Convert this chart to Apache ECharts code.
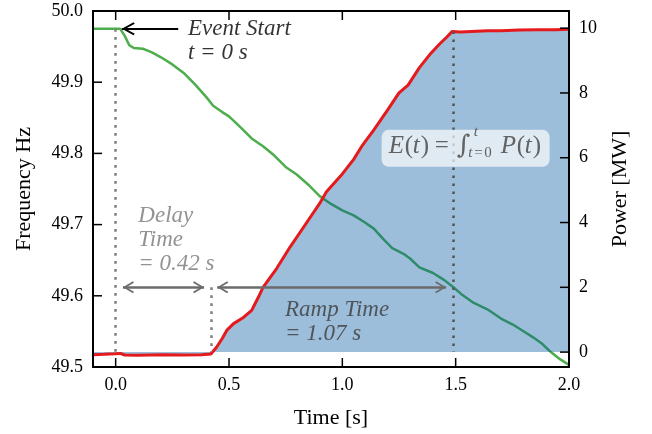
<!DOCTYPE html>
<html>
<head>
<meta charset="utf-8">
<script src="https://cdn.jsdelivr.net/npm/echarts@6/dist/echarts.min.js"></script>
<style>
  html, body { margin: 0; padding: 0; background: #fff; }
  #chart { width: 652px; height: 434px; }
</style>
</head>
<body>
<div id="chart"></div>
<script>
// Grid frequency after a trip event, and the power ramp of the responding unit
const freqTime = [-0.1, 0.0, 0.02, 0.04, 0.06, 0.08, 0.12, 0.16, 0.20, 0.25, 0.30, 0.35, 0.40, 0.43, 0.47,
  0.50, 0.55, 0.60, 0.65, 0.70, 0.75, 0.80, 0.85, 0.90, 0.95, 1.00, 1.05, 1.10, 1.14, 1.18, 1.22, 1.27,
  1.30, 1.34, 1.40, 1.45, 1.49, 1.53, 1.58, 1.64, 1.70, 1.75, 1.78, 1.84, 1.88, 1.92, 1.96, 2.00];
const freqHz = [49.975, 49.975, 49.975, 49.965, 49.952, 49.948, 49.947, 49.942, 49.935, 49.925, 49.913,
  49.897, 49.879, 49.867, 49.858, 49.852, 49.837, 49.821, 49.810, 49.797, 49.781, 49.770, 49.756, 49.740,
  49.729, 49.720, 49.713, 49.703, 49.694, 49.680, 49.667, 49.659, 49.652, 49.640, 49.632, 49.622, 49.612,
  49.601, 49.590, 49.581, 49.568, 49.560, 49.554, 49.542, 49.533, 49.521, 49.511, 49.503];

const powerTime = [-0.1, -0.05, 0.0, 0.02, 0.04, 0.10, 0.20, 0.30, 0.38, 0.42, 0.445, 0.47, 0.49, 0.52,
  0.56, 0.60, 0.63, 0.65, 0.71, 0.77, 0.84, 0.90, 0.93, 1.00, 1.05, 1.09, 1.14, 1.20, 1.25, 1.29, 1.34,
  1.39, 1.43, 1.46, 1.485, 1.52, 1.57, 1.64, 1.70, 1.78, 1.86, 1.94, 2.00];
const powerMW = [-0.08, -0.07, -0.05, -0.04, -0.09, -0.10, -0.08, -0.09, -0.08, -0.06, 0.15, 0.42, 0.67,
  0.88, 1.05, 1.29, 1.70, 2.00, 2.58, 3.25, 3.97, 4.59, 4.95, 5.50, 5.95, 6.40, 6.87, 7.48, 8.00, 8.24,
  8.78, 9.22, 9.52, 9.72, 9.90, 9.88, 9.90, 9.92, 9.92, 9.94, 9.95, 9.95, 9.97];

const timeTicks = [0, 0.5, 1.0, 1.5, 2.0];
const freqTicks = [49.5, 49.6, 49.7, 49.8, 49.9, 50.0];
const powerTicks = [0, 2, 4, 6, 8, 10];

const timeRange = [-0.1, 2.0];
const freqRange = [49.5, 50.0];
const powerRange = [-0.46, 10.53];

// Event markers (seconds) and the annotated durations
const eventTime = 0;
const rampStartTime = 0.42;
const rampEndTime = 1.49;
const delayText = 'Delay\nTime\n= 0.42 s';
const rampText = 'Ramp Time\n= 1.07 s';
const eventText = 'Event Start\nt = 0 s';

const SERIF = "'Liberation Serif', 'Times New Roman', 'DejaVu Serif', serif";

const pairs = (xs, ys) => xs.map((x, i) => [x, ys[i]]);
const freqData = pairs(freqTime, freqHz);
const powerData = pairs(powerTime, powerMW);

// Inward tick marks: [x, y, direction] with 0 = up, 1 = down, 2 = right, 3 = left
const freqTickRows = [].concat(
  timeTicks.map(t => [t, freqRange[0], 0]),
  timeTicks.map(t => [t, freqRange[1], 1]),
  freqTicks.map(f => [timeRange[0], f, 2])
);
const powerTickRows = powerTicks.map(p => [timeRange[1], p, 3]);
const TICK_DIRS = [[0, -1], [0, 1], [1, 0], [-1, 0]];
const renderTick = (params, api) => {
  const p = api.coord([api.value(0), api.value(1)]);
  const d = TICK_DIRS[api.value(2)];
  return {
    type: 'line',
    shape: { x1: p[0], y1: p[1], x2: p[0] + d[0] * 9, y2: p[1] + d[1] * 9 },
    style: { stroke: '#000', lineWidth: 1.5 }
  };
};

// Open chevron arrow head; the degenerate sub-path puts the tip at the symbol centre
const CHEVRON = 'path://M50,0 L100,80 L88,88 L50,26 L12,88 L0,80 Z M50,-88 L50.01,-88 L50,-87.99 Z';

const axisLineStyle = () => ({ show: true, onZero: false, lineStyle: { color: '#000', width: 2 } });
const labelStyle = (extra) => Object.assign({ color: '#000', fontFamily: SERIF, fontSize: 18 }, extra);
const nameStyle = () => ({ color: '#000', fontFamily: SERIF, fontSize: 22 });

const chart = echarts.init(document.getElementById('chart'), null, { renderer: 'canvas' });

const option = {
  animation: false,
  backgroundColor: '#fff',
  grid: { left: 93, right: 83, top: 11, bottom: 67, containLabel: false, outerBoundsMode: 'none' },
  xAxis: [
    {
      type: 'value', position: 'bottom', min: timeRange[0], max: timeRange[1], z: 10,
      axisLine: axisLineStyle(),
      axisTick: { show: false },
      axisLabel: labelStyle({ customValues: timeTicks, margin: 9, formatter: v => v.toFixed(1) }),
      splitLine: { show: false },
      name: 'Time [s]', nameLocation: 'middle', nameGap: 40, nameTextStyle: nameStyle()
    },
    {
      type: 'value', position: 'top', min: timeRange[0], max: timeRange[1], z: 10,
      axisLine: axisLineStyle(),
      axisTick: { show: false },
      axisLabel: { show: false },
      splitLine: { show: false }
    }
  ],
  yAxis: [
    {
      type: 'value', position: 'left', min: freqRange[0], max: freqRange[1], interval: 0.1, z: 10,
      axisLine: axisLineStyle(),
      axisTick: { show: false },
      axisLabel: labelStyle({ margin: 10, formatter: v => v.toFixed(1) }),
      splitLine: { show: false },
      name: 'Frequency Hz', nameLocation: 'middle', nameRotate: 90, nameGap: 58, nameTextStyle: nameStyle()
    },
    {
      type: 'value', position: 'right', min: powerRange[0], max: powerRange[1], z: 10,
      axisLine: axisLineStyle(),
      axisTick: { show: false },
      axisLabel: labelStyle({ customValues: powerTicks, margin: 10 }),
      splitLine: { show: false },
      name: 'Power [MW]', nameLocation: 'middle', nameRotate: 90, nameGap: 40, nameTextStyle: nameStyle()
    }
  ],
  series: [
    {
      // dotted guides for the event, ramp start and ramp end
      name: 'guides', type: 'line', xAxisIndex: 0, yAxisIndex: 1, data: [], z: 1, silent: true,
      markLine: {
        silent: true, symbol: ['none', 'none'], label: { show: false },
        lineStyle: { type: [2.7, 5.3], width: 2.5, color: '#808080' },
        data: [
          [{ coord: [eventTime, 9.975] }, { coord: [eventTime, 0] }],
          [{ coord: [rampStartTime, 2] }, { coord: [rampStartTime, 0] }],
          [{ coord: [rampEndTime, 9.9], lineStyle: { color: '#555' } }, { coord: [rampEndTime, 0] }]
        ]
      }
    },
    {
      name: 'Frequency', type: 'line', xAxisIndex: 0, yAxisIndex: 0, data: freqData, z: 2,
      showSymbol: false, smooth: false,
      lineStyle: { color: '#4cae4c', width: 2.5 },
      markLine: {
        silent: true, label: { show: false },
        symbol: [CHEVRON, 'none'], symbolSize: [13, 26],
        lineStyle: { type: 'solid', color: '#000', width: 2 },
        data: [[{ coord: [0.027, 49.975] }, { coord: [0.276, 49.975] }]]
      }
    },
    {
      // energy delivered: area under the power curve
      name: 'Energy', type: 'line', xAxisIndex: 0, yAxisIndex: 1, data: powerData, z: 3,
      showSymbol: false, silent: true,
      lineStyle: { width: 0 },
      areaStyle: { color: 'rgba(0, 86, 160, 0.385)', opacity: 1, origin: 0 }
    },
    {
      name: 'Power', type: 'line', xAxisIndex: 0, yAxisIndex: 1, data: powerData, z: 4,
      showSymbol: false,
      lineStyle: { color: '#e41a1c', width: 3 },
      markLine: {
        silent: true, label: { show: false },
        symbol: [CHEVRON, CHEVRON], symbolSize: [12, 22],
        lineStyle: { type: 'solid', color: '#6b6b6b', width: 2.5 },
        data: [
          [{ coord: [0.032, 2] }, { coord: [0.39, 2] }],
          [{ coord: [0.448, 2] }, { coord: [1.458, 2] }]
        ]
      }
    },
    {
      name: 'ticksFreq', type: 'custom', xAxisIndex: 0, yAxisIndex: 0, z: 9, silent: true, clip: false,
      data: freqTickRows, renderItem: renderTick
    },
    {
      name: 'ticksPower', type: 'custom', xAxisIndex: 0, yAxisIndex: 1, z: 9, silent: true, clip: false,
      data: powerTickRows, renderItem: renderTick
    },
    {
      name: 'notes', type: 'scatter', xAxisIndex: 0, yAxisIndex: 0, z: 5, silent: true,
      symbolSize: 1, itemStyle: { color: 'rgba(0,0,0,0)' },
      label: {
        show: true, position: 'inside', align: 'left', verticalAlign: 'middle',
        fontFamily: SERIF, fontStyle: 'italic', fontSize: 23, lineHeight: 24,
        formatter: p => p.data.text
      },
      data: [
        { value: [0.319, 49.9585], text: eventText, label: { color: '#000' } },
        { value: [0.10, 49.679], text: delayText, label: { color: '#777' } },
        { value: [0.747, 49.5626], text: rampText, label: { color: '#3a3a3a' } }
      ]
    },
    {
      // energy formula in a rounded translucent box
      name: 'formula', type: 'custom', xAxisIndex: 0, yAxisIndex: 1, z: 6, silent: true,
      data: [[1.544, 6.29]],
      renderItem: (params, api) => {
        const c = api.coord([api.value(0), api.value(1)]);
        const col = '#626262';
        const t = (text, dx, dy, size, italic, family) => ({
          type: 'text', x: c[0] + dx, y: c[1] + dy,
          style: {
            text, fill: col, fontFamily: family || SERIF, fontSize: size,
            fontStyle: italic ? 'italic' : 'normal', align: 'left', verticalAlign: 'middle'
          }
        });
        return {
          type: 'group',
          children: [
            {
              type: 'rect',
              shape: { x: c[0] - 84, y: c[1] - 18.5, width: 168, height: 37, r: 7 },
              style: { fill: 'rgba(255,255,255,0.68)' }
            },
            t('E', -77, -2, 25, true),
            t('(', -61, -2, 25, false),
            t('t', -53, -2, 25, true),
            t(')', -45, -2, 25, false),
            t('=', -31, -2, 25, false),
            t('\u222B', -9, -2, 26, false, "'DejaVu Serif', serif"),
            t('t', 8, -16, 15, true),
            t('t', 2.5, 5, 15, true),
            t('=', 8.5, 5, 15, false),
            t('0', 18.5, 5, 15, false),
            t('P', 35, -2, 25, true),
            t('(', 51, -2, 25, false),
            t('t', 59, -2, 25, true),
            t(')', 67, -2, 25, false)
          ]
        };
      }
    }
  ]
};

chart.setOption(option);
</script>
</body>
</html>
